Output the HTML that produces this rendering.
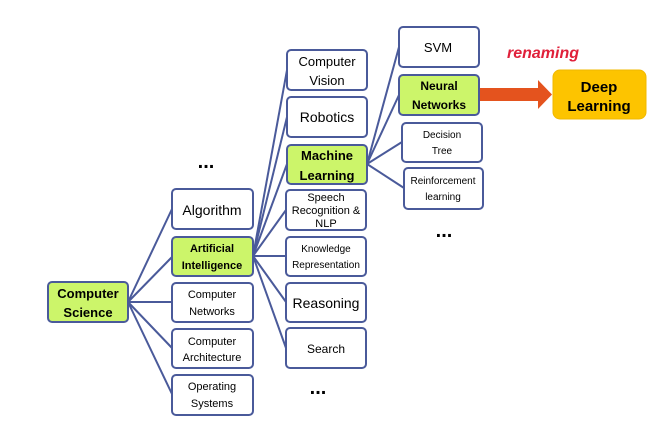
<!DOCTYPE html>
<html><head><style>
body{margin:0;background:#fff;}
svg{display:block;font-family:"Liberation Sans",sans-serif;}
</style></head><body>
<svg width="656" height="422" viewBox="0 0 656 422" xmlns="http://www.w3.org/2000/svg">
<g stroke="#4a5a9a" stroke-width="2" fill="none">
<!-- CS connectors -->
<line x1="128" y1="302" x2="172" y2="209"/>
<line x1="128" y1="302" x2="172" y2="257"/>
<line x1="128" y1="302" x2="172" y2="302"/>
<line x1="128" y1="302" x2="172" y2="348"/>
<line x1="128" y1="302" x2="172" y2="394"/>
<!-- AI connectors -->
<line x1="253" y1="256" x2="287" y2="70"/>
<line x1="253" y1="256" x2="287" y2="117"/>
<line x1="253" y1="256" x2="287" y2="164"/>
<line x1="253" y1="256" x2="286" y2="210"/>
<line x1="253" y1="256" x2="286" y2="256"/>
<line x1="253" y1="256" x2="286" y2="302"/>
<line x1="253" y1="256" x2="286" y2="348"/>
<!-- ML connectors -->
<line x1="367" y1="164" x2="399" y2="47"/>
<line x1="367" y1="164" x2="399" y2="95"/>
<line x1="367" y1="164" x2="402" y2="142"/>
<line x1="367" y1="164" x2="404" y2="188"/>
</g>
<g stroke="#4a5a9a" stroke-width="2">
<rect x="48" y="282" width="80" height="40" rx="4" fill="#ccf56a"/>
<rect x="172" y="189" width="81" height="40" rx="4" fill="#fff"/>
<rect x="172" y="237" width="81" height="39" rx="4" fill="#ccf56a"/>
<rect x="172" y="283" width="81" height="39" rx="4" fill="#fff"/>
<rect x="172" y="329" width="81" height="39" rx="4" fill="#fff"/>
<rect x="172" y="375" width="81" height="40" rx="4" fill="#fff"/>
<rect x="287" y="50" width="80" height="40" rx="4" fill="#fff"/>
<rect x="287" y="97" width="80" height="40" rx="4" fill="#fff"/>
<rect x="287" y="145" width="80" height="39" rx="4" fill="#ccf56a"/>
<rect x="286" y="190" width="80" height="40" rx="4" fill="#fff"/>
<rect x="286" y="237" width="80" height="39" rx="4" fill="#fff"/>
<rect x="286" y="283" width="80" height="39" rx="4" fill="#fff"/>
<rect x="286" y="328" width="80" height="40" rx="4" fill="#fff"/>
<rect x="399" y="27" width="80" height="40" rx="4" fill="#fff"/>
<rect x="399" y="75" width="80" height="40" rx="4" fill="#ccf56a"/>
<rect x="402" y="123" width="80" height="39" rx="4" fill="#fff"/>
<rect x="404" y="168" width="79" height="41" rx="4" fill="#fff"/>
</g>
<rect x="553" y="70" width="93" height="49" rx="7" fill="#fdc400" stroke="#f0b800" stroke-width="1"/>
<polygon points="480,88 538,88 538,80 552,94.5 538,109 538,101 480,101" fill="#e4531e"/>
<text x="543" y="58" text-anchor="middle" font-size="16" font-weight="bold" font-style="italic" fill="#e0203a">renaming</text>
<g text-anchor="middle" fill="#000">
<text font-weight="bold" font-size="13"><tspan x="88" y="298">Computer</tspan><tspan x="88" y="317">Science</tspan></text>
<text x="212" y="215" font-size="14">Algorithm</text>
<text font-weight="bold" font-size="11"><tspan x="212" y="252">Artificial</tspan><tspan x="212" y="269">Intelligence</tspan></text>
<text font-size="11"><tspan x="212" y="298">Computer</tspan><tspan x="212" y="315">Networks</tspan></text>
<text font-size="11"><tspan x="212" y="345">Computer</tspan><tspan x="212" y="361">Architecture</tspan></text>
<text font-size="11"><tspan x="212" y="390">Operating</tspan><tspan x="212" y="407">Systems</tspan></text>
<text font-size="13"><tspan x="327" y="66">Computer</tspan><tspan x="327" y="85">Vision</tspan></text>
<text x="327" y="122" font-size="14">Robotics</text>
<text font-weight="bold" font-size="13"><tspan x="327" y="160">Machine</tspan><tspan x="327" y="180">Learning</tspan></text>
<text font-size="11"><tspan x="326" y="201">Speech</tspan><tspan x="326" y="214">Recognition &amp;</tspan><tspan x="326" y="227">NLP</tspan></text>
<text font-size="10"><tspan x="326" y="252">Knowledge</tspan><tspan x="326" y="268">Representation</tspan></text>
<text x="326" y="308" font-size="14">Reasoning</text>
<text x="326" y="353" font-size="12">Search</text>
<text x="438" y="52" font-size="13">SVM</text>
<text font-weight="bold" font-size="12"><tspan x="439" y="90">Neural</tspan><tspan x="439" y="109">Networks</tspan></text>
<text font-size="10"><tspan x="442" y="138">Decision</tspan><tspan x="442" y="154">Tree</tspan></text>
<text font-size="10"><tspan x="443" y="184">Reinforcement</tspan><tspan x="443" y="200">learning</tspan></text>
<text font-weight="bold" font-size="15"><tspan x="599" y="92">Deep</tspan><tspan x="599" y="111">Learning</tspan></text>
<text x="206" y="168" font-size="20" font-weight="bold">...</text>
<text x="444" y="237" font-size="20" font-weight="bold">...</text>
<text x="318" y="394" font-size="20" font-weight="bold">...</text>
</g>
</svg>
</body></html>
